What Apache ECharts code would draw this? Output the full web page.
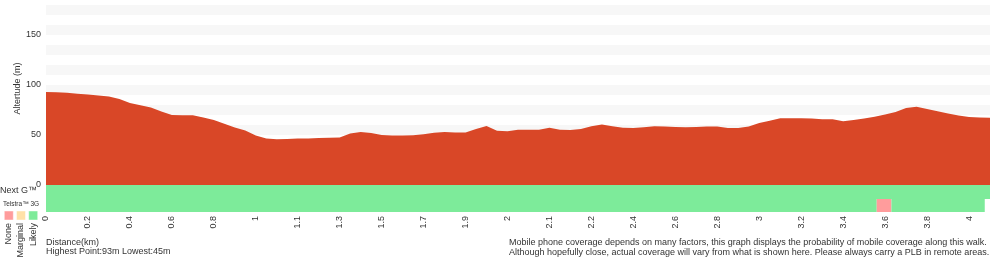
<!DOCTYPE html>
<html>
<head>
<meta charset="utf-8">
<script src="https://cdn.jsdelivr.net/npm/echarts@6/dist/echarts.min.js"></script>
<style>
html,body{margin:0;padding:0;background:#fff;}
#chart{width:1000px;height:260px;}
</style>
</head>
<body>
<div id="chart"></div>
<script>
// distance (km) for each profile point
var distances = [
  '0','0','0.1','0.1','0.2',
  '0.2','0.3','0.3','0.4',
  '0.4','0.5','0.5','0.6',
  '0.6','0.7','0.7','0.8',
  '0.8','0.9','0.9','1',
  '1','1','1.1','1.1',
  '1.2','1.2','1.3','1.3',
  '1.4','1.4','1.5','1.5',
  '1.6','1.6','1.7','1.7',
  '1.8','1.8','1.9','1.9',
  '1.9','2','2','2',
  '2','2.1','2.1','2.1',
  '2.1','2.2','2.2','2.2',
  '2.3','2.3','2.4','2.4',
  '2.5','2.5','2.6','2.6',
  '2.7','2.7','2.8','2.8',
  '2.9','2.9','3','3',
  '3.1','3.1','3.2','3.2',
  '3.3','3.3','3.4','3.4',
  '3.5','3.5','3.6','3.6',
  '3.7','3.7','3.8','3.8',
  '3.9','3.9','4','4',
  '4','4.1'
];
// altitude (m)
var altitude = [
  93, 92.8, 92.2, 91.3, 90.4,
  89.6, 88.5, 85.9, 82,
  79.8, 77.4, 73.4, 70,
  69.8, 69.7, 67.5, 65,
  61.2, 57.5, 54.4, 49.6,
  46.4, 45.7, 46.1, 46.4,
  46.6, 46.9, 47.2, 47.5,
  51.6, 53, 51.9, 50,
  49.4, 49.4, 49.7, 50.7,
  52.2, 53, 52.4, 52.6,
  55.9, 58.9, 54.3, 53.8,
  55.3, 55.3, 55.3, 57.2,
  55.3, 54.9, 56, 58.8,
  60.6, 58.7, 57.2, 57,
  57.7, 58.7, 58.5, 58,
  57.7, 58.1, 58.6, 58.4,
  57, 56.9, 58.5, 62,
  64.3, 66.7, 66.7, 66.7,
  66.5, 65.7, 65.7, 63.7,
  65, 66.5, 68.3, 70.5,
  73, 77, 78.3, 76,
  73.8, 71.6, 69.4, 68,
  67.5, 67.3
];
// coverage segments: [start point index, end point index, level]
var nextGCoverage = [[0, 90, 'Likely']];
var telstra3GCoverage = [[0, 79.2, 'Likely'], [79.2, 80.6, 'None'], [80.6, 89.5, 'Likely']];
var coverageRows = ['Next G\u2122', 'Telstra\u2122 3G'];
var coverageLevels = ['None', 'Marginal', 'Likely'];
var levelColors = {None: '#ff9c9c', Marginal: '#ffe1a8', Likely: '#7deb9a'};
var yTicks = [0, 50, 100, 150];
var highest = 93, lowest = 45;

var FONT = 'Liberation Sans, Arial, Helvetica, sans-serif';
var TXT = '#333';

var covData = [];
nextGCoverage.forEach(function (s) { covData.push([s[0], s[1], 0, s[2]]); });
telstra3GCoverage.forEach(function (s) { covData.push([s[0], s[1], 1, s[2]]); });

var chart = echarts.init(document.getElementById('chart'), null, {renderer: 'canvas'});

var graphics = [
  {type: 'text', x: 18, y: 88.5, rotation: Math.PI / 2,
   style: {text: 'Altertude (m)', font: '9px ' + FONT, fill: TXT, align: 'center', verticalAlign: 'middle'}},
  {type: 'text', x: 0, y: 191,
   style: {text: coverageRows[0], font: '9px ' + FONT, fill: TXT, align: 'left', verticalAlign: 'middle'}},
  {type: 'text', x: 3, y: 204,
   style: {text: coverageRows[1], font: '6.5px ' + FONT, fill: TXT, align: 'left', verticalAlign: 'middle'}},
  {type: 'text', x: 46, y: 242.5,
   style: {text: 'Distance(km)', font: '9px ' + FONT, fill: TXT, align: 'left', verticalAlign: 'middle'}},
  {type: 'text', x: 46, y: 252,
   style: {text: 'Highest Point:' + highest + 'm Lowest:' + lowest + 'm', font: '9px ' + FONT, fill: TXT, align: 'left', verticalAlign: 'middle'}},
  {type: 'text', x: 509, y: 243,
   style: {text: 'Mobile phone coverage depends on many factors, this graph displays the probability of mobile coverage along this walk.', font: '9px ' + FONT, fill: TXT, align: 'left', verticalAlign: 'middle'}},
  {type: 'text', x: 509, y: 252.5,
   style: {text: 'Although hopefully close, actual coverage will vary from what is shown here. Please always carry a PLB in remote areas.', font: '9px ' + FONT, fill: TXT, align: 'left', verticalAlign: 'middle'}}
];
var legendX = [8.8, 21, 33.2];
coverageLevels.forEach(function (lv, i) {
  graphics.push({type: 'rect', shape: {x: legendX[i] - 4.5, y: 211, width: 9, height: 9},
    style: {fill: levelColors[lv], stroke: 'rgba(255,255,255,0.45)', lineWidth: 1}});
  graphics.push({type: 'text', x: legendX[i], y: 223, rotation: Math.PI / 2,
    style: {text: lv, font: '9px ' + FONT, fill: TXT, align: 'right', verticalAlign: 'middle'}});
});

var option = {
  animation: false,
  backgroundColor: '#fff',
  grid: [
    {left: 46, right: 10, top: 5, height: 180, containLabel: false},
    {left: 46, right: 10, top: 185, height: 27, containLabel: false}
  ],
  xAxis: [
    {type: 'category', gridIndex: 0, data: distances, boundaryGap: false,
     axisLine: {show: false}, axisTick: {show: false}, splitLine: {show: false},
     axisLabel: {interval: 3, rotate: 90, margin: 31, fontSize: 9, color: TXT, fontFamily: FONT}},
    {type: 'value', gridIndex: 1, min: 0, max: distances.length - 1, show: false}
  ],
  yAxis: [
    {type: 'value', gridIndex: 0, min: 0, max: 180, interval: 10,
     axisLine: {show: false}, axisTick: {show: false}, splitLine: {show: false},
     splitArea: {show: true, areaStyle: {color: ['rgba(255,255,255,0)', '#f7f7f7']}},
     axisLabel: {margin: 5, fontSize: 9, color: TXT, fontFamily: FONT,
       formatter: function (v) { return yTicks.indexOf(v) >= 0 ? String(v) : ''; }}},
    {type: 'value', gridIndex: 1, min: 0, max: 2, show: false}
  ],
  graphic: graphics,
  series: [
    {type: 'line', xAxisIndex: 0, yAxisIndex: 0, data: altitude, symbol: 'none',
     lineStyle: {width: 0, color: '#d94727'}, areaStyle: {color: '#d94727', opacity: 1}},
    {type: 'custom', xAxisIndex: 1, yAxisIndex: 1, data: covData,
     renderItem: function (params, api) {
       var row = api.value(2);
       var p1 = api.coord([api.value(0), 2 - row]);
       var p2 = api.coord([api.value(1), 1 - row]);
       var y1 = Math.round(p1[1]), y2 = Math.round(p2[1]);
       return {type: 'rect', shape: {x: p1[0], y: y1, width: p2[0] - p1[0], height: y2 - y1},
         style: {fill: levelColors[covData[params.dataIndex][3]]}};
     }}
  ]
};
chart.setOption(option);
</script>
</body>
</html>
